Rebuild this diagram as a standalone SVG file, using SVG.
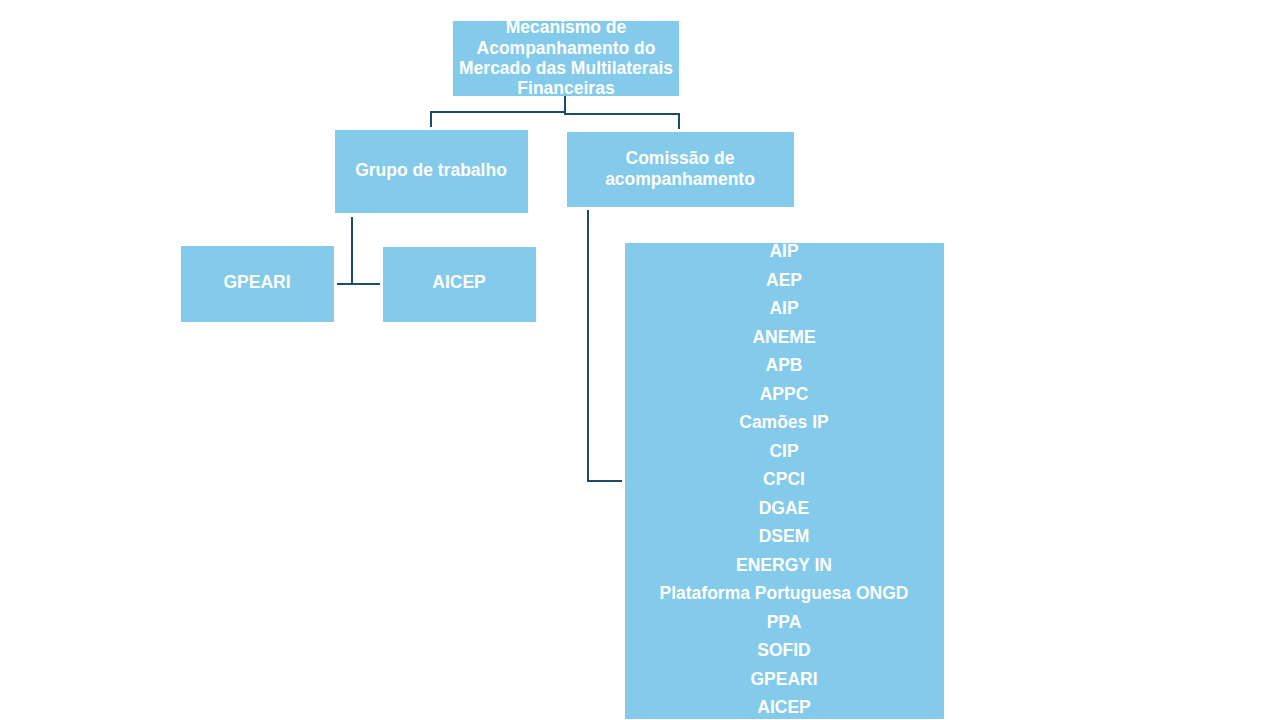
<svg xmlns="http://www.w3.org/2000/svg" width="1280" height="720" viewBox="0 0 1280 720">
<style>
.box{fill:#83CAEB;}
.t{font-family:"Liberation Sans",Arial,sans-serif;font-weight:bold;font-size:17.5px;fill:#FFFFFF;text-anchor:middle;}
.c{fill:none;stroke:#1B4D68;stroke-width:2;}
</style>
<rect width="1280" height="720" fill="#FFFFFF"/>
<g id="connectors">
<polyline class="c" points="565,96 565,112 431,112 431,127"/>
<polyline class="c" points="565,112 565,114 679,114 679,129"/>
<polyline class="c" points="352,217 352,284 337,284"/>
<line class="c" x1="352" y1="284" x2="380" y2="284"/>
<polyline class="c" points="588,210 588,481 622,481"/>
</g>
<g id="n-mecanismo">
<rect class="box" x="453" y="21" width="226" height="75"/>
<text class="t" x="566" y="33">Mecanismo de</text>
<text class="t" x="566" y="54">Acompanhamento do</text>
<text class="t" x="566" y="74">Mercado das Multilaterais</text>
<text class="t" x="566" y="94">Financeiras</text>
</g>
<g id="n-grupo">
<rect class="box" x="335" y="130" width="193" height="83"/>
<text class="t" x="431" y="176">Grupo de trabalho</text>
</g>
<g id="n-comissao">
<rect class="box" x="567" y="132" width="227" height="75"/>
<text class="t" x="680" y="164">Comissão de</text>
<text class="t" x="680" y="185">acompanhamento</text>
</g>
<g id="n-gpeari">
<rect class="box" x="181" y="246" width="153" height="76"/>
<text class="t" x="257" y="288">GPEARI</text>
</g>
<g id="n-aicep">
<rect class="box" x="383" y="247" width="153" height="75"/>
<text class="t" x="459" y="288">AICEP</text>
</g>
<g id="n-lista">
<rect class="box" x="625" y="243" width="319" height="476"/>
<text class="t" x="784" y="257">AIP</text>
<text class="t" x="784" y="286">AEP</text>
<text class="t" x="784" y="314">AIP</text>
<text class="t" x="784" y="343">ANEME</text>
<text class="t" x="784" y="371">APB</text>
<text class="t" x="784" y="400">APPC</text>
<text class="t" x="784" y="428">Camões IP</text>
<text class="t" x="784" y="457">CIP</text>
<text class="t" x="784" y="485">CPCI</text>
<text class="t" x="784" y="514">DGAE</text>
<text class="t" x="784" y="542">DSEM</text>
<text class="t" x="784" y="571">ENERGY IN</text>
<text class="t" x="784" y="599">Plataforma Portuguesa ONGD</text>
<text class="t" x="784" y="628">PPA</text>
<text class="t" x="784" y="656">SOFID</text>
<text class="t" x="784" y="685">GPEARI</text>
<text class="t" x="784" y="713">AICEP</text>
</g>
</svg>
